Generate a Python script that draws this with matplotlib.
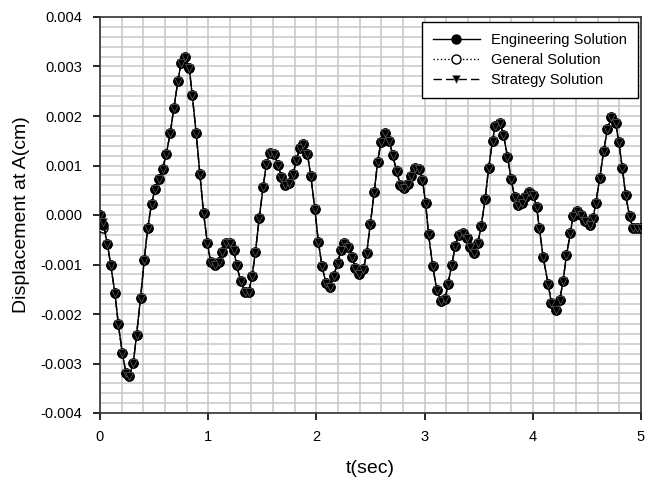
import matplotlib
matplotlib.use("Agg")
import matplotlib.pyplot as plt
from matplotlib.ticker import MultipleLocator, FormatStrFormatter

plt.rcParams['font.family'] = ['Liberation Sans', 'DejaVu Sans']

t = [0.000, 0.032, 0.068, 0.099, 0.138, 0.169, 0.206, 0.240, 0.270, 0.308,
     0.338, 0.375, 0.409, 0.440, 0.477, 0.508, 0.545, 0.578, 0.612, 0.649,
     0.683, 0.720, 0.748, 0.785, 0.825, 0.852, 0.889, 0.923, 0.957, 0.992,
     1.022, 1.062, 1.100, 1.129, 1.163, 1.200, 1.237, 1.262, 1.300, 1.338,
     1.375, 1.406, 1.437, 1.471, 1.508, 1.538, 1.569, 1.609, 1.646, 1.677,
     1.708, 1.748, 1.785, 1.815, 1.846, 1.877, 1.917, 1.948, 1.985, 2.018,
     2.052, 2.089, 2.126, 2.160, 2.197, 2.228, 2.258, 2.295, 2.329, 2.360,
     2.397, 2.434, 2.465, 2.498, 2.535, 2.566, 2.597, 2.634, 2.674, 2.705,
     2.742, 2.775, 2.812, 2.843, 2.874, 2.911, 2.951, 2.980, 3.009, 3.037,
     3.074, 3.114, 3.151, 3.191, 3.215, 3.252, 3.283, 3.314, 3.351, 3.391,
     3.422, 3.452, 3.492, 3.523, 3.560, 3.591, 3.628, 3.652, 3.698, 3.729,
     3.766, 3.800, 3.831, 3.862, 3.898, 3.929, 3.962, 4.004, 4.035, 4.060,
     4.095, 4.142, 4.172, 4.212, 4.249, 4.280, 4.311, 4.348, 4.372, 4.409,
     4.449, 4.486, 4.526, 4.557, 4.582, 4.618, 4.655, 4.689, 4.726, 4.766,
     4.794, 4.828, 4.858, 4.895, 4.926, 4.965, 5.000]

engineering = [0.0, -0.00020, -0.00058, -0.00101, -0.00158, -0.00220, -0.00279, -0.00319, -0.00325, -0.00298,
               -0.00242, -0.00167, -0.00091, -0.00027, 0.00023, 0.00052, 0.00073, 0.00093, 0.00123, 0.00165,
               0.00217, 0.00270, 0.00307, 0.00320, 0.00297, 0.00243, 0.00165, 0.00083, 0.00004, -0.00056,
               -0.00094, -0.00102, -0.00094, -0.00074, -0.00056, -0.00056, -0.00071, -0.00101, -0.00133, -0.00156,
               -0.00155, -0.00123, -0.00074, -0.00007, 0.00057, 0.00104, 0.00125, 0.00123, 0.00101, 0.00077,
               0.00061, 0.00064, 0.00083, 0.00111, 0.00135, 0.00143, 0.00123, 0.00079, 0.00013, -0.00054,
               -0.00104, -0.00138, -0.00145, -0.00123, -0.00096, -0.00071, -0.00057, -0.00064, -0.00084, -0.00108,
               -0.00119, -0.00110, -0.00077, -0.00019, 0.00047, 0.00108, 0.00148, 0.00165, 0.00150, 0.00121,
               0.00088, 0.00061, 0.00054, 0.00062, 0.00079, 0.00094, 0.00093, 0.00071, 0.00024, -0.00039,
               -0.00103, -0.00152, -0.00174, -0.00170, -0.00140, -0.00100, -0.00063, -0.00040, -0.00037, -0.00046,
               -0.00064, -0.00076, -0.00057, -0.00022, 0.00032, 0.00094, 0.00150, 0.00180, 0.00185, 0.00162,
               0.00118, 0.00072, 0.00037, 0.00020, 0.00024, 0.00036, 0.00047, 0.00041, 0.00017, -0.00026,
               -0.00084, -0.00140, -0.00177, -0.00191, -0.00172, -0.00133, -0.00081, -0.00036, -0.00003, 0.00009,
               0.00000, -0.00013, -0.00020, -0.00007, 0.00024, 0.00074, 0.00129, 0.00173, 0.00197, 0.00185,
               0.00148, 0.00094, 0.00040, -0.00003, -0.00027, -0.00027, -0.00027]

general = list(engineering)
general[1] = -0.00027
strategy = list(engineering)
strategy[1] = -0.00015

xticks = [0, 1, 2, 3, 4, 5]
yticks = [-0.004, -0.003, -0.002, -0.001, 0.0, 0.001, 0.002, 0.003, 0.004]

fig = plt.figure(figsize=(6.55, 4.84), dpi=100)
ax = fig.add_axes([100/655, 71/484, 541/655, 396/484])

ax.plot(t, general, linestyle=':', color='black', linewidth=1.0, marker='o',
        markersize=6.5, markerfacecolor='white', markeredgecolor='black',
        markeredgewidth=1.0, label='General Solution', zorder=3)
ax.plot(t, engineering, linestyle='-', color='black', linewidth=1.0, marker='o',
        markersize=6.5, markerfacecolor='black', markeredgecolor='black',
        label='Engineering Solution', zorder=4)
ax.plot(t, strategy, linestyle=(0, (6, 3)), color='black', linewidth=1.0, marker='v',
        markersize=5.5, markerfacecolor='black', markeredgecolor='#777777',
        markeredgewidth=0.4, label='Strategy Solution', zorder=5)

ax.set_xlim(0, 5)
ax.set_ylim(-0.004, 0.004)
ax.set_xticks(xticks)
ax.set_yticks(yticks)
ax.xaxis.set_minor_locator(MultipleLocator(0.2))
ax.yaxis.set_minor_locator(MultipleLocator(0.0002))
ax.yaxis.set_major_formatter(FormatStrFormatter('%.3f'))
ax.grid(True, which='both', color='#c8c8c8', linewidth=1.1)
ax.set_axisbelow(True)
ax.tick_params(which='major', direction='out', length=5, width=1.2, labelsize=10.5, colors='black')
ax.tick_params(which='minor', length=0)
ax.tick_params(axis='x', pad=7)
ax.tick_params(axis='y', pad=8)
for s in ax.spines.values():
    s.set_linewidth(1.2)
    s.set_color('#333333')

ax.set_xlabel('t(sec)', fontsize=14, labelpad=12)
ax.set_ylabel('Displacement at A(cm)', fontsize=14, labelpad=7)

h, l = ax.get_legend_handles_labels()
order = [1, 0, 2]
leg = ax.legend([h[i] for i in order], [l[i] for i in order], loc='upper right',
                bbox_to_anchor=(0.995, 0.987), borderaxespad=0, fontsize=10.5,
                frameon=True, fancybox=False, edgecolor='black', framealpha=1,
                handlelength=3.2, borderpad=0.75, labelspacing=0.4)
leg.get_frame().set_linewidth(1.0)

fig.savefig('out.png', dpi=100)
